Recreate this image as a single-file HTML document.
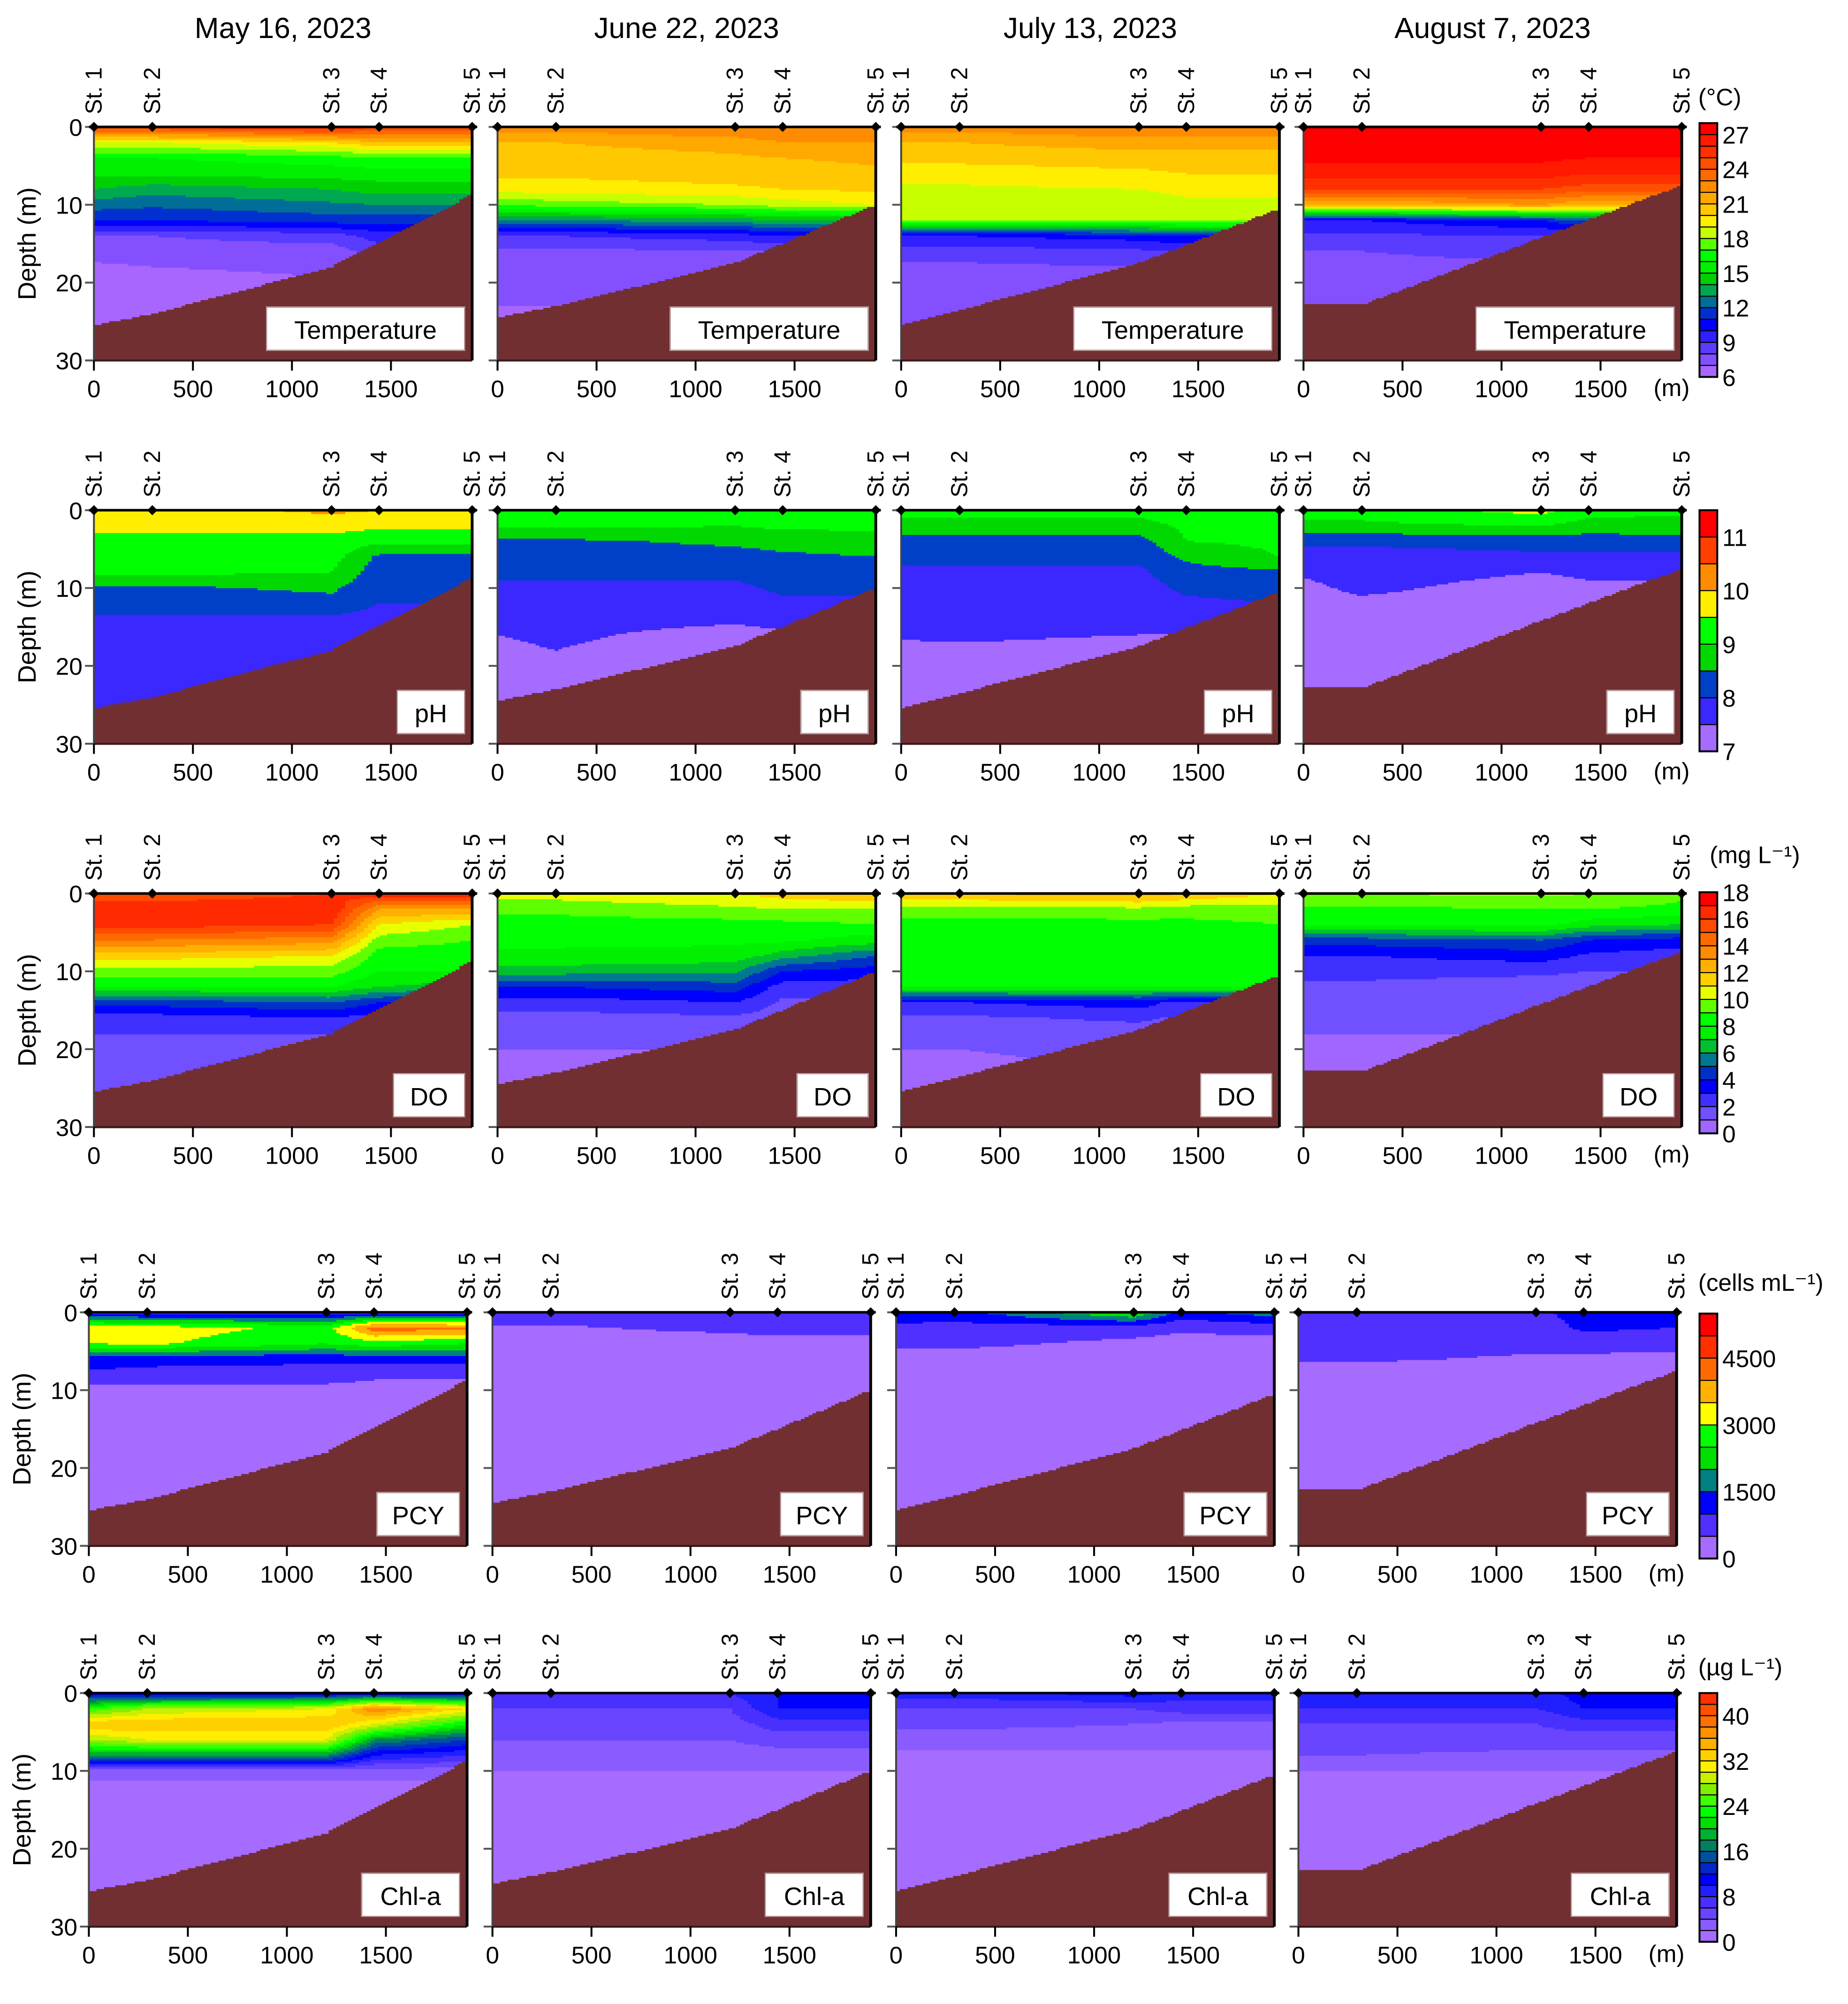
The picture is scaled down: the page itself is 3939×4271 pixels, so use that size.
<!DOCTYPE html>
<html><head><meta charset="utf-8"><title>Reservoir depth profiles 2023</title>
<style>html,body{margin:0;padding:0;background:#fff}svg{display:block}text{font-family:"Liberation Sans",sans-serif;fill:#000}</style></head>
<body>
<svg id="fig" xmlns="http://www.w3.org/2000/svg" width="3939" height="4271" viewBox="0 0 1456 1579" preserveAspectRatio="none" shape-rendering="crispEdges"></svg>
<script>
// ---------- data ----------
const dates=["May 16, 2023","June 22, 2023","July 13, 2023","August 7, 2023"];
const stationNames=["St. 1","St. 2","St. 3","St. 4","St. 5"];
const stationX=[0,295,1200,1440,1910];
const depthLevels=[0,2,4,6,8,10,12,14,16,18,20,26];
const xTicks=[0,500,1000,1500];
const depthTicks=[0,10,20,30];
const bathyX=[0,300,1200,1910];
const bathyMay=[25.5,24,18,8.7];
const bathyJun=[24.5,23,17.5,10];
const bathyJul=[25.5,23.5,17.5,10.5];
const bathyAug=[22.8,22.8,14.2,7.5];

const tempMay=[[25,25,26,25,25],[19,19,20,21,21],[16,16,16.5,17,17],[15.2,15.2,15.5,15.5,15.5],[14,13.5,14,14.5,14.5],[12.5,12.2,12.8,13,13],[11,11,11.5,11.5,11.5],[8,8,8.5,9.5,9.5],[7.5,7.5,7.5,8.5,8.5],[6.8,7,7.2,8,8],[6.5,6.6,6.9,7.5,7.5],[6.3,6.3,6.5,7,7]];
const tempJun=[[22.5,22.5,23,23,23],[21,21,21.5,22,22],[20.5,20.5,20.8,21,21.2],[20.2,20.2,20.5,20.5,20.8],[19.5,19.5,19.8,20,20.2],[17,17.5,18,18.5,19],[13,13,13.5,14,14],[9,9,9.5,10,10],[7.8,7.8,7.9,8,8],[7.5,7.5,7.6,7.8,8],[7.2,7.2,7.3,7.5,7.5],[6.8,6.8,7,7,7]];
const tempJul=[[22.5,22.5,23,23,23],[21,21,21.5,21.5,21.5],[20.3,20.3,20.5,20.5,20.5],[19.5,19.5,19.8,20,20],[18.8,18.8,19,19.2,19.2],[18.5,18.5,18.6,18.8,18.8],[18,18,18,18.2,18.2],[10,10,10.5,11,11],[8.5,8.5,8.8,9,9],[7.8,7.8,8,8.2,8.2],[7.5,7.5,7.6,7.8,7.8],[7.2,7.2,7.3,7.5,7.5]];
const tempAug=[[28,28,28,28,28],[27.5,27.5,27.5,27.5,27.5],[27.2,27.2,27.2,27,27],[26.5,26.5,26.5,26,26],[25,25,25,24.5,24.5],[21,21,22,21,21],[10,10,11,12,12],[8.8,8.8,9,9.5,9.5],[8,8,8.2,8.5,8.5],[7.8,7.8,7.9,8,8],[7.5,7.5,7.6,7.8,7.8],[7.3,7.3,7.5,7.5,7.5]];

const phMay=[[9.8,9.8,10.1,10,9.8],[9.7,9.7,9.7,9.6,9.6],[9.3,9.3,9.3,9.1,9.1],[9.2,9.2,9.2,8.4,8.4],[9.1,9.1,9.0,8.2,8.2],[8.4,8.4,8.6,8.1,8.1],[8.2,8.2,8.3,8.0,8.0],[7.9,7.9,7.9,7.8,7.8],[7.8,7.8,7.8,7.8,7.8],[7.8,7.8,7.8,7.8,7.8],[7.8,7.8,7.8,7.8,7.8],[7.7,7.7,7.7,7.7,7.7]];
const phJun=[[9.2,9.2,9.2,9.2,9.2],[9.1,9.1,9.0,9.1,9.1],[8.4,8.4,8.6,8.7,8.8],[8.2,8.2,8.3,8.4,8.5],[8.1,8.1,8.1,8.2,8.2],[7.9,7.9,7.9,8.1,8.1],[7.8,7.8,7.7,7.9,7.9],[7.7,7.7,7.6,7.7,7.7],[7.5,7.6,7.3,7.4,7.4],[7.4,7.5,7.2,7.2,7.2],[7.3,7.4,7.2,7.2,7.2],[7.2,7.2,7.2,7.2,7.2]];
const phJul=[[9.2,9.2,9.2,9.3,9.3],[8.8,8.8,8.8,9.1,9.2],[8.3,8.3,8.3,9.0,9.1],[8.1,8.1,8.1,8.6,9.0],[7.9,7.9,7.9,8.3,8.4],[7.8,7.8,7.8,8.1,8.2],[7.7,7.7,7.7,7.9,8.0],[7.6,7.6,7.6,7.7,7.7],[7.55,7.55,7.5,7.5,7.5],[7.4,7.45,7.4,7.4,7.4],[7.3,7.3,7.3,7.3,7.3],[7.2,7.2,7.2,7.2,7.2]];
const phAug=[[9.2,9.2,9.7,9.2,9.1],[8.9,8.9,9.0,8.8,8.8],[8.1,8.1,8.2,8.2,8.3],[7.8,7.8,7.9,7.9,7.9],[7.55,7.7,7.5,7.6,7.6],[7.4,7.6,7.3,7.4,7.4],[7.3,7.4,7.2,7.2,7.2],[7.2,7.2,7.2,7.2,7.2],[7.2,7.2,7.2,7.2,7.2],[7.2,7.2,7.2,7.2,7.2],[7.2,7.2,7.2,7.2,7.2],[7.2,7.2,7.2,7.2,7.2]];

const doMay=[[15,15,16,17,17],[17,17,17,13,13],[16.5,16.5,16,11,10],[14,14,13.5,9.5,9],[11.5,11.5,11,8.5,8.5],[9.5,9.5,9.5,8,8],[8,8,8,7,6.5],[4.5,4.5,5,4,4],[2.5,2.5,3,2.5,2.5],[2,2,2,2,2],[1.5,1.5,1.8,1.8,1.8],[1,1,1.5,1.5,1.5]];
const doJun=[[10.5,10.5,11,11.5,12],[9.3,9.3,9.8,10,10],[8.5,8.5,8.6,8.7,9],[8.2,8.2,8.2,8.2,7.5],[7.8,7.8,7.6,6.5,5],[6.5,6.5,6.2,4,3.5],[4,4,4.5,2.5,2.5],[2.5,2.5,3,1.8,1.8],[1.6,1.6,1.8,1.5,1.5],[1.2,1.2,1.2,1.2,1.2],[1,1,1,1,1],[0.8,0.8,0.8,0.8,0.8]];
const doJul=[[12,12,12.5,12,11],[9.5,9.5,9.8,9.5,9.5],[8.6,8.6,8.6,8.7,9],[8.5,8.5,8.5,8.5,8.5],[8.4,8.4,8.4,8.4,8.4],[8.3,8.3,8.3,8.4,8.5],[8.1,8.1,8.0,8.1,8.2],[3,3,3.5,2.5,2.5],[1.8,1.8,2.2,1.8,1.8],[1.5,1.5,1.5,1.5,1.5],[1.0,1.0,1.2,1.2,1.2],[0.6,0.6,0.8,0.8,0.8]];
const doAug=[[9.8,10,10.2,10,9.2],[8.8,8.8,9,9,8.8],[8.3,8.3,8.4,7.5,7],[4.5,4.5,5,4,3.5],[3,3,3.5,2.8,2.5],[2.3,2.3,2.2,2,2],[1.8,1.8,1.5,1.5,1.5],[1.2,1.2,1.2,1.2,1.2],[1,1,1,1,1],[1,1,1,1,1],[0.8,0.8,0.8,0.8,0.8],[0.8,0.8,0.8,0.8,0.8]];

const pcyMay=[[700,700,700,700,700],[3400,3300,2800,4300,4200],[3000,3100,2500,2800,2500],[1200,1100,1100,1200,1200],[900,900,800,600,600],[300,300,300,300,300],[200,200,200,200,200],[200,200,200,200,200],[200,200,200,200,200],[200,200,200,200,200],[200,200,200,200,200],[200,200,200,200,200]];
const pcyJun=[[700,700,700,800,800],[450,450,600,700,700],[300,300,300,300,300],[200,200,200,200,200],[200,200,200,200,200],[200,200,200,200,200],[200,200,200,200,200],[200,200,200,200,200],[200,200,200,200,200],[200,200,200,200,200],[200,200,200,200,200],[200,200,200,200,200]];
const pcyJul=[[1500,1300,2600,1300,1800],[800,800,700,600,700],[600,600,400,300,300],[300,300,300,300,300],[200,200,200,200,200],[200,200,200,200,200],[200,200,200,200,200],[200,200,200,200,200],[200,200,200,200,200],[200,200,200,200,200],[200,200,200,200,200],[200,200,200,200,200]];
const pcyAug=[[800,800,900,1200,1100],[700,700,700,1100,1000],[650,650,600,700,600],[550,550,450,400,400],[300,300,300,300,300],[200,200,200,200,200],[200,200,200,200,200],[200,200,200,200,200],[200,200,200,200,200],[200,200,200,200,200],[200,200,200,200,200],[200,200,200,200,200]];

const chlMay=[[10,10,10,10,10],[24,28,30,38,32],[34,34,34,30,22],[28,30,30,18,14],[18,18,18,10,8],[3,3,3,3,3],[1.5,1.5,1.5,1.5,1.5],[1.5,1.5,1.5,1.5,1.5],[1.5,1.5,1.5,1.5,1.5],[1.5,1.5,1.5,1.5,1.5],[1.5,1.5,1.5,1.5,1.5],[1.5,1.5,1.5,1.5,1.5]];
const chlJun=[[7,7,8,10,11],[6,6,6,10,10],[5,5,5,7,7],[4,4,4,5,5],[3,3,3,3,3],[2,2,2,2,2],[1,1,1,1,1],[1,1,1,1,1],[1,1,1,1,1],[1,1,1,1,1],[1,1,1,1,1],[1,1,1,1,1]];
const chlJul=[[9,9,11,9,9],[6,6,6,7,7],[4.5,4.5,4,3.5,3.5],[3,3,3,3,3],[1.5,1.5,1.5,1.5,1.5],[1.5,1.5,1.5,1.5,1.5],[1.5,1.5,1.5,1.5,1.5],[1.5,1.5,1.5,1.5,1.5],[1.5,1.5,1.5,1.5,1.5],[1.5,1.5,1.5,1.5,1.5],[1.5,1.5,1.5,1.5,1.5],[1.5,1.5,1.5,1.5,1.5]];
const chlAug=[[9,9,9,11,11],[8,8,8,10,10],[6,6,6,7,7],[5,5,5,5,5],[4,4,3.5,3.5,3.5],[2,2,2,2,2],[1.5,1.5,1.5,1.5,1.5],[1.5,1.5,1.5,1.5,1.5],[1.5,1.5,1.5,1.5,1.5],[1.5,1.5,1.5,1.5,1.5],[1.5,1.5,1.5,1.5,1.5],[1.5,1.5,1.5,1.5,1.5]];

const tempTicks=[27,24,21,18,15,12,9,6];
const phTicks=[11,10,9,8,7];
const doTicks=[18,16,14,12,10,8,6,4,2,0];
const pcyTicks=[4500,3000,1500,0];
const chlTicks=[40,32,24,16,8,0];

// ---------- styling ----------
const tempColors=["#a866ff","#8450ff","#5a3cff","#3020ff","#0000ff","#0030d0","#006e96","#00a850","#00d000","#00f000","#00ff00","#5aff00","#c8ff00","#ffee00","#ffc800","#ffa800","#ff8c00","#ff6a00","#ff5000","#ff3000","#ff1a00","#ff0000"];
const phColors=["#a66bff","#3a28ff","#0040c8","#00d800","#00ff00","#ffee00","#ff8c00","#ff4000","#ff0000"];
const doColors=["#a066ff","#7050ff","#4030ff","#0000ff","#0030c8","#007890","#00c030","#00f000","#00ff00","#60ff00","#e8ff00","#ffd000","#ffb000","#ff8c00","#ff6a00","#ff4a00","#ff2a00","#ff0000"];
const pcyColors=["#a66bff","#5030ff","#0000ff","#008080","#00e000","#00ff00","#ffff00","#ffb000","#ff6a00","#ff3000","#ff0000"];
const chlColors=["#a66bff","#8a5cff","#6a45ff","#4a30ff","#2020ff","#0000ff","#0028c8","#0050a0","#008060","#00b030","#00e000","#00ff00","#40ff00","#80f000","#c8f000","#ffee00","#ffd000","#ffb000","#ff9000","#ff7000","#ff5000","#ff3000"];
const SEA="#722f32";
const NS="http://www.w3.org/2000/svg";
const svg=document.getElementById('fig');
function el(tag,attrs,parent,txt){const e=document.createElementNS(NS,tag);for(const k in attrs)e.setAttribute(k,attrs[k]);if(txt!==undefined)e.textContent=txt;(parent||svg).appendChild(e);return e;}

const rows=[
 {name:"temperature",label:"Temperature",y0:100,cols:[74,392,710,1027],data:[tempMay,tempJun,tempJul,tempAug],colors:tempColors,vmin:6,step:1,ticks:tempTicks,unit:"(°C)",unitX:1338,unitY:83,boxW:156,cbTop:97,cbBot:297},
 {name:"ph",label:"pH",y0:402,cols:[74,392,710,1027],data:[phMay,phJun,phJul,phAug],colors:phColors,vmin:7,step:0.5,ticks:phTicks,unit:"",unitX:0,unitY:0,boxW:53,cbTop:402,cbBot:592},
 {name:"do",label:"DO",y0:704,cols:[74,392,710,1027],data:[doMay,doJun,doJul,doAug],colors:doColors,vmin:0,step:1,ticks:doTicks,unit:"(mg L\u207B\u00B9)",unitX:1347,unitY:680,boxW:56,cbTop:703,cbBot:893},
 {name:"pcy",label:"PCY",y0:1034,cols:[70,388,706,1023],data:[pcyMay,pcyJun,pcyJul,pcyAug],colors:pcyColors,vmin:0,step:500,ticks:pcyTicks,unit:"(cells mL\u207B\u00B9)",unitX:1338,unitY:1017,boxW:65,cbTop:1035,cbBot:1228},
 {name:"chl-a",label:"Chl-a",y0:1334,cols:[70,388,706,1023],data:[chlMay,chlJun,chlJul,chlAug],colors:chlColors,vmin:0,step:2,ticks:chlTicks,unit:"(\u00B5g L\u207B\u00B9)",unitX:1338,unitY:1320,boxW:77,cbTop:1334,cbBot:1530}
];
const bathys=[bathyMay,bathyJun,bathyJul,bathyAug];
const W=298,H=184,XMAX=1910,DMAX=30;
function xs(x0,m){return x0+m/XMAX*W;}
function ys(y0,d){return y0+d/DMAX*H;}
function interp1(arr,xsArr,x){if(x<=xsArr[0])return arr[0];for(let i=0;i<xsArr.length-1;i++){if(x<=xsArr[i+1]){const t=(x-xsArr[i])/(xsArr[i+1]-xsArr[i]);return arr[i]+(arr[i+1]-arr[i])*t;}}return arr[arr.length-1];}
function valueAt(grid,x,d){const col=grid.map(r=>interp1(r,stationX,x));return interp1(col,depthLevels,d);}

// titles
dates.forEach((t,c)=>{
  const e=el('text',{x:rows[0].cols[c]+W/2,y:30,'font-size':23,'text-anchor':'middle'},svg,t);
  
  
});

rows.forEach((R,r)=>{
  const nb=R.colors.length;
  const cellW=3,cellH=1.5;
  R.cols.forEach((x0,c)=>{
    const y0=R.y0;
    const g=el('g',{});
    
    
    const grid=R.data[c],bath=bathys[c];
    const nx=Math.round(W/cellW),ny=Math.round(H/cellH);
    for(let j=0;j<ny;j++){
      const d=(j+0.5)*cellH/H*DMAX;
      let runStart=0,runCol=null;
      const flush=(end)=>{if(runCol===null)return;el('rect',{x:x0+runStart*cellW,y:y0+j*cellH,width:(end-runStart)*cellW+0.4,height:cellH+0.4,fill:runCol},g);};
      for(let i=0;i<nx;i++){
        const m=(i+0.5)*cellW/W*XMAX;
        let col;
        if(d>interp1(bath,bathyX,m))col=SEA;
        else{const v=valueAt(grid,m,d);let k=Math.floor((v-R.vmin)/R.step);k=Math.max(0,Math.min(nb-1,k));col=R.colors[k];}
        if(col!==runCol){flush(i);runStart=i;runCol=col;}
      }
      flush(nx);
    }
    // frame
    const ax=el('g',{'shape-rendering':'auto'});
    
    
    el('line',{x1:x0,y1:y0,x2:x0,y2:y0+H,stroke:'#444','stroke-width':1.5},ax);
    el('line',{x1:x0,y1:y0+H,x2:x0+W,y2:y0+H,stroke:'#3a1a1a','stroke-width':1.5},ax);
    el('line',{x1:x0+W,y1:y0,x2:x0+W,y2:y0+H,stroke:'#000','stroke-width':2.2},ax);
    el('line',{x1:x0-4,y1:y0,x2:x0+W+4,y2:y0,stroke:'#000','stroke-width':2},ax);
    depthTicks.forEach(t=>{
      el('line',{x1:x0-7,y1:ys(y0,t),x2:x0,y2:ys(y0,t),stroke:'#555','stroke-width':1.5},ax);
      if(c===0){const e=el('text',{x:x0-9,y:ys(y0,t)+7,'font-size':19,'text-anchor':'end'},ax,String(t));
        }
    });
    xTicks.forEach(t=>{
      el('line',{x1:xs(x0,t),y1:y0+H,x2:xs(x0,t),y2:y0+H+8,stroke:'#000','stroke-width':1.5},ax);
      const e=el('text',{x:xs(x0,t),y:y0+H+29,'font-size':19,'text-anchor':'middle'},ax,String(t));
      
    });
    stationX.forEach((s,k)=>{
      const sx=xs(x0,s);
      el('path',{d:`M${sx-4} ${y0}L${sx} ${y0-4}L${sx+4} ${y0}L${sx} ${y0+4}Z`,fill:'#000'},ax);
      const e=el('text',{x:0,y:0,'font-size':18,transform:`translate(${sx+6},${y0-10}) rotate(-90)`},ax,stationNames[k]);
      
    });
    if(c===0){const e=el('text',{x:0,y:0,'font-size':20,'text-anchor':'middle',transform:`translate(${x0-46},${y0+H/2}) rotate(-90)`},ax,'Depth (m)');
      }
    if(c===3){const e=el('text',{x:x0+W-8,y:y0+H+28,'font-size':19,'text-anchor':'middle'},ax,'(m)');
      }
    // label box
    const bx=x0+W-6-R.boxW,by=y0+H-42;
    const lb=el('g',{});
    
    
    el('rect',{x:bx,y:by,width:R.boxW,height:34,fill:'#fff',stroke:'#b89a9a','stroke-width':1},lb);
    el('text',{x:bx+R.boxW/2,y:by+25,'font-size':20,'text-anchor':'middle'},lb,R.label);
  });
  // colorbar
  const cb=el('g',{'shape-rendering':'auto'});
  
  
  const cbx=1339,cbw=14,bh=(R.cbBot-R.cbTop)/nb;
  R.colors.forEach((col,k)=>{
    el('rect',{x:cbx,y:R.cbBot-(k+1)*bh,width:cbw,height:bh,fill:col,stroke:'#000','stroke-width':0.8},cb);
  });
  el('rect',{x:cbx,y:R.cbTop,width:cbw,height:R.cbBot-R.cbTop,fill:'none',stroke:'#000','stroke-width':1.5},cb);
  R.ticks.forEach(t=>{
    const yy=R.cbBot-(t-R.vmin)/R.step*bh;
    const e=el('text',{x:1357,y:yy+7,'font-size':19},cb,String(t));
    
  });
  if(R.unit){const e=el('text',{x:R.unitX,y:R.unitY,'font-size':19},cb,R.unit);
    }
});
</script>
</body></html>
